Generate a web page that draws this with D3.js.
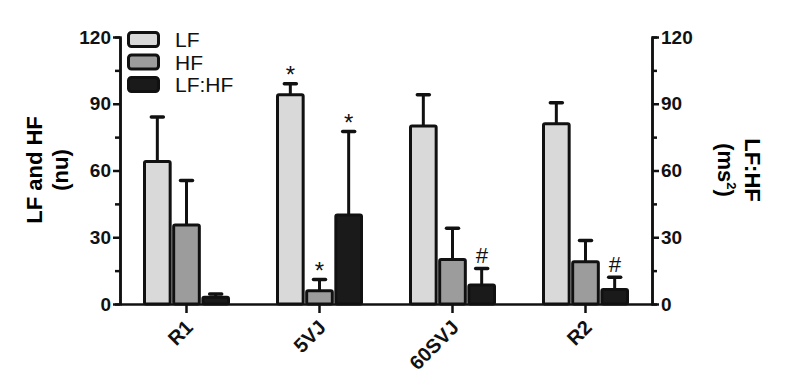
<!DOCTYPE html>
<html>
<head>
<meta charset="utf-8">
<script src="https://cdn.jsdelivr.net/npm/d3@7"></script>
<style>
  body { margin: 0; background: #fff; }
  svg { font-family: "Liberation Sans", Arial, sans-serif; }
</style>
</head>
<body>
<svg id="chart" width="811" height="390"></svg>
<script>
const categories = ['R1', '5VJ', '60SVJ', 'R2'];
const seriesNames = ['LF', 'HF', 'LF:HF'];
const lfMean = [64, 94, 80, 81];
const lfErr = [84, 99, 94, 90.5];
const hfMean = [35.5, 6, 20, 19];
const hfErr = [55.5, 11, 34, 28.5];
const ratioMean = [3, 40, 8.5, 6.5];
const ratioErr = [4.5, 77.5, 16, 12];
const lfMarks = ['', '*', '', ''];
const hfMarks = ['', '*', '', ''];
const ratioMarks = ['', '*', '#', '#'];
const yTicks = [0, 30, 60, 90, 120];
const yMinor = [15, 45, 75, 105];
const colors = ['#d9d9d9', '#9b9c9b', '#1a1a1a'];

const svg = d3.select('#chart');
const margin = { top: 37, left: 120, right: 159, bottom: 86 };
const width = 811 - margin.left - margin.right;
const height = 390 - margin.top - margin.bottom;

const g = svg.append('g').attr('transform', `translate(${margin.left},${margin.top})`);

const x = d3.scaleBand().domain(categories).range([0, width]);
const inner = d3.scaleBand().domain(seriesNames).range([-42, 42]).paddingInner(0.12);
const y = d3.scaleLinear().domain([0, 120]).range([height, 0]);
const y2 = d3.scaleLinear().domain([0, 120]).range([height, 0]);

const series = [
  { name: 'LF', mean: lfMean, err: lfErr, marks: lfMarks, scale: y },
  { name: 'HF', mean: hfMean, err: hfErr, marks: hfMarks, scale: y },
  { name: 'LF:HF', mean: ratioMean, err: ratioErr, marks: ratioMarks, scale: y2 }
];

// bars and error bars
series.forEach((s, si) => {
  const rows = categories.map((c, i) => ({ c, m: s.mean[i], e: s.err[i], mark: s.marks[i] }));
  const bx = d => x(d.c) + x.bandwidth() / 2 + inner(s.name);
  const bw = inner.bandwidth();

  g.selectAll(null).data(rows).join('line')
    .attr('x1', d => bx(d) + bw / 2).attr('x2', d => bx(d) + bw / 2)
    .attr('y1', d => s.scale(d.m)).attr('y2', d => s.scale(d.e))
    .attr('stroke', '#111').attr('stroke-width', 3);
  g.selectAll(null).data(rows).join('line')
    .attr('x1', d => bx(d) + bw / 2 - 6).attr('x2', d => bx(d) + bw / 2 + 6)
    .attr('y1', d => s.scale(d.e)).attr('y2', d => s.scale(d.e))
    .attr('stroke', '#111').attr('stroke-width', 3.5).attr('stroke-linecap', 'round');

  g.selectAll(null).data(rows).join('rect')
    .attr('x', bx).attr('width', bw)
    .attr('y', d => s.scale(d.m)).attr('height', d => height - s.scale(d.m))
    .attr('rx', 1.5)
    .attr('fill', colors[si]).attr('stroke', '#111').attr('stroke-width', 3);

  g.selectAll(null).data(rows.filter(d => d.mark)).join('text')
    .attr('x', d => bx(d) + bw / 2)
    .attr('y', d => s.scale(d.e) - (d.mark === '*' ? 1 : 5))
    .attr('text-anchor', 'middle')
    .attr('font-size', d => d.mark === '*' ? 24 : 22)
    .attr('font-style', d => d.mark === '#' ? 'italic' : 'normal')
    .attr('fill', '#111')
    .text(d => d.mark);
});

// axes
const styleAxis = sel => {
  sel.selectAll('path, line').attr('stroke', '#111').attr('stroke-width', 2.5);
  sel.selectAll('text').attr('font-size', 19).attr('font-weight', 'bold').attr('fill', '#111');
};

g.append('g').call(d3.axisLeft(y).tickValues(yMinor).tickSize(5).tickFormat(''))
  .call(styleAxis);
g.append('g').call(d3.axisLeft(y).tickValues(yTicks).tickSize(7).tickPadding(2).tickSizeOuter(0))
  .call(styleAxis);

g.append('g').attr('transform', `translate(${width},0)`)
  .call(d3.axisRight(y2).tickValues(yMinor).tickSize(5).tickFormat(''))
  .call(styleAxis);
g.append('g').attr('transform', `translate(${width},0)`)
  .call(d3.axisRight(y2).tickValues(yTicks).tickSize(7).tickPadding(2).tickSizeOuter(0))
  .call(styleAxis);

const xAxis = g.append('g').attr('transform', `translate(0,${height})`)
  .call(d3.axisBottom(x).tickSize(9).tickSizeOuter(0))
  .call(styleAxis);
xAxis.selectAll('text')
  .attr('font-size', 20)
  .attr('text-anchor', 'end')
  .attr('dy', '0.3em')
  .attr('transform', 'translate(-5,12) rotate(-45)');

// axis titles
const titleSize = 22;
svg.append('text')
  .attr('transform', 'translate(42,170) rotate(-90)')
  .attr('text-anchor', 'middle').attr('font-size', titleSize).attr('font-weight', 'bold')
  .text('LF and HF');
svg.append('text')
  .attr('transform', 'translate(68,170) rotate(-90)')
  .attr('text-anchor', 'middle').attr('font-size', titleSize).attr('font-weight', 'bold')
  .text('(nu)');

svg.append('text')
  .attr('transform', 'translate(745,170) rotate(90)')
  .attr('text-anchor', 'middle').attr('font-size', titleSize).attr('font-weight', 'bold')
  .text('LF:HF');
const t2 = svg.append('text')
  .attr('transform', 'translate(718,170) rotate(90)')
  .attr('text-anchor', 'middle').attr('font-size', titleSize).attr('font-weight', 'bold');
t2.append('tspan').text('(ms');
t2.append('tspan').attr('font-size', 13).attr('dy', -9).text('2');
t2.append('tspan').attr('dy', 9).text(')');

// legend
const legend = svg.append('g').attr('transform', 'translate(127,31)');
const lg = legend.selectAll('g').data(seriesNames).join('g')
  .attr('transform', (d, i) => `translate(0,${i * 22.5})`);
lg.append('rect')
  .attr('x', 1.5).attr('y', 1.5).attr('width', 30).attr('height', 14).attr('rx', 3)
  .attr('fill', (d, i) => colors[i]).attr('stroke', '#111').attr('stroke-width', 3);
lg.append('text')
  .attr('x', 48).attr('y', 8.5).attr('dy', '0.36em')
  .attr('font-size', 21).attr('fill', '#111')
  .text(d => d);
</script>
</body>
</html>
